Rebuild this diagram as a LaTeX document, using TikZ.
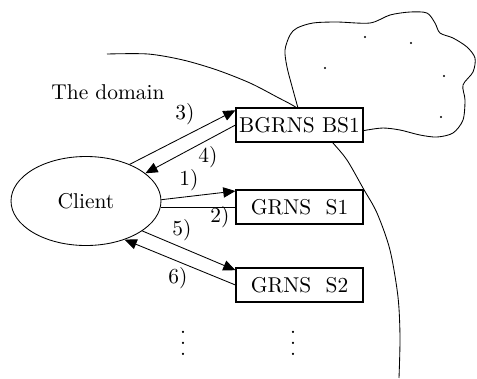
\documentclass[tikz,border=0pt]{standalone}
\usepackage{amsmath,amssymb}
\usetikzlibrary{arrows.meta,shapes.geometric}

\newcommand\moredots{\vbox{\baselineskip5.1pt\lineskiplimit0pt\hbox{.}\hbox{.}\hbox{.}}}

\tikzset{
  server/.style={draw,semithick,fill=white,minimum width=2.08cm,minimum height=0.56cm,inner sep=1pt},
  client/.style={draw,ellipse,fill=white,minimum width=2.46cm,minimum height=1.46cm,inner sep=0pt},
  msg/.style={-{Triangle[length=2mm,width=1.7mm]}},
}

\begin{document}
\begin{tikzpicture}[x=0.0164cm,y=-0.0164cm]
  \useasboundingbox (0,0) rectangle (477,378);
  % border of the domain
  \draw plot[smooth] coordinates {(107,54) (148,54) (183,60) (217,70) (250,83) (277,97) (297,108)
    (316,124) (333,143) (347,160) (363,188) (377,213) (390,250) (398,297) (400,337) (399,378)};
  % the cloud with its hosts
  \draw plot[smooth] coordinates {(298,108) (293,90) (287,67) (285,50) (290,35) (297,28) (313,23)
    (337,22) (370,23) (390,15) (410,12) (427,13) (435,23) (440,33) (453,38) (467,47) (475,58)
    (473,72) (463,85) (465,100) (463,120) (453,133) (437,137) (420,135) (400,130) (383,128)
    (367,130) (362,131)};
  \fill (365,37) circle (1.1);
  \fill (411,43) circle (1.1);
  \fill (325,68) circle (1.1);
  \fill (444,76) circle (1.1);
  \fill (441,117) circle (1.1);

  \node (domain) at (108,92) {The domain};
  \node[client] (client) at (86,201) {Client};
  \node[server] (bs1) at (299.5,125) {BGRNS BS1};
  \node[server] (s1) at (299.5,207) {GRNS\ \ S1};
  \node[server] (s2) at (299.5,285) {GRNS\ \ S2};

  \draw[msg] (client.40) -- (bs1.167);
  \draw[msg] (bs1.west) -- (client.25);
  \draw[msg] (client.1) -- (s1.166);
  \draw (s1.west) -- (client.-4 |- s1.west);
  \draw[msg] (client.-28) -- (s2.167);
  \draw[msg] (s2.west) -- (client.-45);

  \node (l3) at (185,114) {3)};
  \node (l4) at (208,157) {4)};
  \node (l1) at (189,180) {1)};
  \node (l2) at (220,217) {2)};
  \node (l5) at (182,230) {5)};
  \node (l6) at (178,278) {6)};

  \node (more1) at (183,343) {\moredots};
  \node (more2) at (293,343) {\moredots};
\end{tikzpicture}
\end{document}
